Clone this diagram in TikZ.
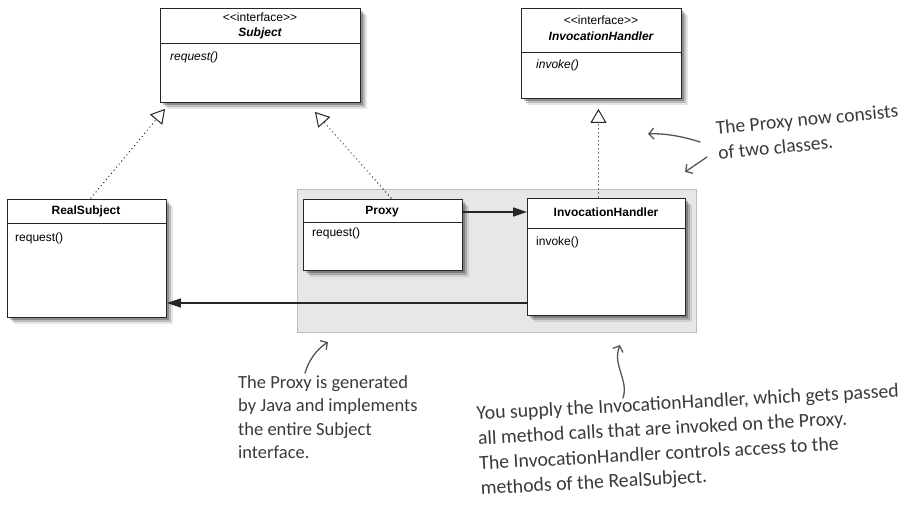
\documentclass[tikz,border=0pt]{standalone}
\usepackage{fontspec}
\setmainfont{Liberation Sans}
\newfontfamily\handfont{Carlito}
\usetikzlibrary{arrows.meta,shadows,calc}
\definecolor{boxline}{HTML}{262626}
\definecolor{grpfill}{HTML}{E6E7E8}
\definecolor{grpline}{HTML}{BDBDBD}
\definecolor{handcol}{HTML}{3A3A3A}
\definecolor{handarrow}{HTML}{555555}
\tikzset{
  cls/.style={draw=boxline, line width=0.9pt, fill=white, anchor=north west, inner sep=0pt,
    drop shadow={shadow xshift=6.5pt, shadow yshift=-6.5pt, opacity=.10, fill=black},
    drop shadow={shadow xshift=4.5pt, shadow yshift=-4.5pt, opacity=.18, fill=black},
    drop shadow={shadow xshift=2.5pt, shadow yshift=-2.5pt, opacity=.25, fill=black}},
  divline/.style={draw=boxline, line width=0.9pt},
  stereo/.style={font=\fontsize{12}{14}\selectfont, inner sep=0pt},
  ititle/.style={font=\fontsize{12}{14}\selectfont\bfseries\itshape, inner sep=0pt},
  ctitle/.style={font=\fontsize{12}{14}\selectfont\bfseries, inner sep=0pt},
  imeth/.style={font=\fontsize{12}{14}\selectfont\itshape, inner sep=0pt, anchor=west},
  cmeth/.style={font=\fontsize{12}{14}\selectfont, inner sep=0pt, anchor=west},
  realize/.style={draw=boxline, line width=1.5pt, dash pattern=on 0.01pt off 4pt, line cap=round,
    -{Triangle[open, length=14pt, width=16pt, fill=white, line width=1pt]}},
  assoc/.style={draw=boxline, line width=1.5pt, -{Triangle[length=14pt, width=9pt]}},
  hand/.style={font=\handfont\fontsize{19.5}{25}\selectfont, text=handcol, align=left, inner sep=0pt, anchor=north west},
  handarr/.style={draw=handarrow, line width=1.3pt, line cap=round, -{Straight Barb[length=5pt, width=11pt]}}
}
\begin{document}
\begin{tikzpicture}[x=1pt, y=-1pt]
\useasboundingbox (0,0) rectangle (905,511);

% group background
\node[draw=grpline, fill=grpfill, line width=0.8pt, anchor=north west, inner sep=0pt,
      minimum width=399pt, minimum height=143pt] (grp) at (297,189) {};

% Subject interface
\node[cls, minimum width=200pt, minimum height=94pt] (subj) at (160,8) {};
\draw[divline] ($(subj.north west)+(0,35)$) -- ($(subj.north east)+(0,35)$);
\node[stereo] (subjst) at (260,17) {<\kern0pt<interface>\kern0pt>};
\node[ititle] (subjt) at (260,33) {Subject};
\node[imeth] (subjm) at (170,57) {request()};

% InvocationHandler interface
\node[cls, minimum width=160pt, minimum height=90pt] (ihi) at (521,8) {};
\draw[divline] ($(ihi.north west)+(0,44)$) -- ($(ihi.north east)+(0,44)$);
\node[stereo] (ihist) at (601,20) {<\kern0pt<interface>\kern0pt>};
\node[ititle] (ihit) at (601,36) {InvocationHandler};
\node[imeth] (ihim) at (536,65) {invoke()};

% RealSubject
\node[cls, minimum width=159pt, minimum height=118pt] (rs) at (7,199) {};
\draw[divline] ($(rs.north west)+(0,24)$) -- ($(rs.north east)+(0,24)$);
\node[ctitle] (rst) at (86,211) {RealSubject};
\node[cmeth] (rsm) at (15,238) {request()};

% Proxy
\node[cls, minimum width=159pt, minimum height=71pt] (proxy) at (303,199) {};
\draw[divline] ($(proxy.north west)+(0,23)$) -- ($(proxy.north east)+(0,23)$);
\node[ctitle] (proxyt) at (382,212) {Proxy};
\node[cmeth] (proxym) at (312,233) {request()};

% InvocationHandler class
\node[cls, minimum width=158pt, minimum height=117pt] (ih) at (527,198) {};
\draw[divline] ($(ih.north west)+(0,30)$) -- ($(ih.north east)+(0,30)$);
\node[ctitle] (iht) at (606,212) {InvocationHandler};
\node[cmeth] (ihm) at (536,242) {invoke()};

% realizations
\draw[realize] ($(rs.north)+(4,-1)$) -- ($(subj.south west)+(5,6)$);
\draw[realize] ($(proxy.north)+(8,-1)$) -- ($(subj.south west)+(155,9)$);
\draw[realize] ($(ih.north)+(-8,-1)$) -- ($(ihi.south)+(-3,10)$);

% associations
\draw[assoc] ($(proxy.north east)+(0,13)$) -- ($(ih.north west)+(0,14)$);
\draw[assoc] ($(ih.north west)+(0,105)$) -- ($(rs.north east)+(0,104)$);

% annotations
\node[hand, rotate=5.5] (ann1) at (715,121) {The Proxy now consists\\of two classes.};
\coordinate (a1s) at (700,142);
\coordinate (a1e) at (648,134);
\coordinate (a2s) at (707,157);
\coordinate (a2e) at (685,172);
\draw[handarr] (a1s) .. controls (685,137) and (665,133) .. (a1e);
\draw[handarr] (a2s) -- (a2e);

\node[hand, font=\handfont\fontsize{18.5}{23.5}\selectfont] (ann2) at (238,375) {The Proxy is generated\\by Java and implements\\the entire Subject\\interface.};
\coordinate (a3s) at (305,373);
\coordinate (a3e) at (328,342);
\draw[handarr] (a3s) .. controls (309,360) and (316,350) .. (a3e);

\node[hand, rotate=3.1, font=\handfont\fontsize{19.8}{25}\selectfont] (ann3) at (476,406) {You supply the InvocationHandler, which gets passed\\all method calls that are invoked on the Proxy.\\The InvocationHandler controls access to the\\methods of the RealSubject.};
\coordinate (a4s) at (623,398);
\coordinate (a4e) at (620,345);
\draw[handarr] (a4s) .. controls (629,380) and (612,365) .. (a4e);
\end{tikzpicture}
\end{document}
